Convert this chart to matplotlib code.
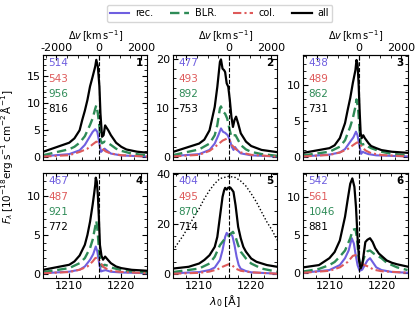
import numpy as np
import matplotlib
matplotlib.use("Agg")
import matplotlib.pyplot as plt
from matplotlib.ticker import MultipleLocator
from matplotlib.lines import Line2D

LYA = 1215.67
C_KMS = 299792.458

# ---------------- panel 1 ----------------
p1_all_lam = [1205, 1210, 1211, 1212, 1212.5, 1213, 1213.5, 1214, 1214.5, 1215, 1215.2, 1215.5, 1215.8, 1216,
              1216.3, 1216.6, 1216.9, 1217.5, 1218, 1219, 1220, 1221, 1223, 1225]
p1_all = [0.93, 2.6, 3.4, 4.9, 6.8, 8.5, 10.5, 13.0, 14.8, 16.7, 17.9, 16.7, 13.0, 8.0,
          3.7, 4.0, 5.8, 4.9, 4.0, 2.6, 1.85, 1.35, 0.95, 0.75]
p1_blr_lam = [1205, 1210, 1211, 1212, 1213, 1214, 1214.5, 1215, 1215.2, 1215.5, 1215.8, 1216, 1216.3, 1216.8,
              1217.5, 1218, 1219, 1220, 1222, 1225]
p1_blr = [0.3, 1.4, 1.85, 2.6, 3.8, 5.9, 7.1, 8.9, 9.5, 8.0, 5.6, 3.1, 2.5, 2.8,
          2.5, 2.2, 1.5, 1.1, 0.6, 0.25]
p1_rec_lam = [1205, 1210, 1212, 1213, 1214, 1214.5, 1215, 1215.4, 1215.8, 1216.1, 1216.4, 1216.8, 1217.3, 1218,
              1220, 1225]
p1_rec = [0.1, 0.5, 1.2, 2.2, 3.8, 4.6, 5.1, 4.6, 2.5, 0.9, 1.2, 1.5, 1.1, 0.6, 0.25, 0.05]
p1_col_lam = [1205, 1210, 1212, 1213.5, 1214.5, 1215.2, 1215.6, 1216, 1216.5, 1217, 1218, 1220, 1225]
p1_col = [0.05, 0.3, 0.9, 1.5, 2.3, 2.8, 2.6, 1.85, 1.4, 1.0, 0.6, 0.3, 0.05]

# ---------------- panel 2 ----------------
p2_all_lam = [1205, 1210, 1211, 1212, 1213, 1213.5, 1214, 1214.2, 1214.5, 1214.8, 1215, 1215.3, 1215.6, 1215.9,
              1216.2, 1216.5, 1216.8, 1217.1, 1217.5, 1218, 1219, 1220, 1222, 1225]
p2_all = [1.0, 2.7, 3.5, 5.4, 10.2, 14.3, 19.4, 19.9, 18.0, 17.7, 17.3, 15.0, 14.3, 11.6,
          8.2, 6.1, 7.5, 8.2, 6.8, 4.8, 3.1, 2.2, 1.4, 0.95]
p2_blr_lam = [1205, 1210, 1212, 1213, 1213.5, 1214, 1214.2, 1214.6, 1215, 1215.4, 1215.8, 1216.2, 1216.6, 1217,
              1217.5, 1218, 1219, 1220, 1222, 1225]
p2_blr = [0.35, 1.5, 2.7, 4.4, 6.5, 9.9, 10.3, 9.2, 8.8, 7.8, 5.8, 4.1, 4.4, 4.4,
          3.4, 2.4, 1.5, 1.0, 0.55, 0.2]
p2_rec_lam = [1205, 1210, 1212, 1213, 1213.7, 1214.2, 1214.6, 1215, 1215.5, 1215.9, 1216.3, 1216.6, 1216.9,
              1217.3, 1218, 1220, 1225]
p2_rec = [0.15, 0.55, 1.4, 2.7, 4.4, 5.8, 5.1, 4.9, 4.4, 3.4, 2.0, 1.4, 2.0, 1.4, 0.7, 0.3, 0.05]
p2_col_lam = [1205, 1210, 1212, 1213.5, 1214.5, 1215.3, 1215.8, 1216.3, 1217, 1218, 1220, 1225]
p2_col = [0.07, 0.4, 1.2, 2.4, 3.3, 3.7, 3.4, 2.4, 1.6, 0.9, 0.4, 0.05]

# ---------------- panel 3 ----------------
p3_all_lam = [1205, 1210, 1211, 1212, 1213, 1213.5, 1214, 1214.5, 1215, 1215.2, 1215.4, 1215.6, 1215.8, 1216,
              1216.2, 1216.5, 1216.8, 1217.5, 1218, 1219, 1220, 1222, 1225]
p3_all = [0.55, 1.2, 1.6, 2.6, 4.7, 6.5, 8.2, 10.3, 12.1, 13.5, 13.0, 10.3, 6.5, 3.3,
          2.6, 3.0, 2.6, 1.9, 1.5, 1.2, 0.93, 0.7, 0.55]
p3_blr_lam = [1205, 1210, 1212, 1213, 1214, 1214.5, 1215, 1215.2, 1215.5, 1215.8, 1216, 1216.3, 1216.8, 1217.5,
              1218, 1220, 1222, 1225]
p3_blr = [0.2, 0.7, 1.4, 2.3, 4.2, 5.4, 7.0, 8.0, 6.8, 3.7, 1.9, 1.7, 1.8, 1.4, 1.2, 0.7, 0.4, 0.2]
p3_rec_lam = [1205, 1210, 1212, 1213, 1214, 1214.6, 1215.1, 1215.4, 1215.8, 1216.1, 1216.4, 1216.8, 1217.5,
              1219, 1225]
p3_rec = [0.05, 0.3, 0.6, 1.07, 2.1, 2.7, 3.5, 3.0, 1.4, 0.4, 0.7, 0.55, 0.37, 0.2, 0.05]
p3_col_lam = [1205, 1210, 1212, 1213.5, 1214.5, 1215.3, 1215.8, 1216.3, 1217, 1218, 1220, 1225]
p3_col = [0.05, 0.25, 0.6, 1.07, 1.6, 2.0, 1.9, 1.3, 0.85, 0.5, 0.25, 0.05]

# ---------------- panel 4 ----------------
p4_all_lam = [1205, 1210, 1211, 1212, 1213, 1213.5, 1214, 1214.5, 1214.8, 1215, 1215.1, 1215.3, 1215.5, 1215.7,
              1215.9, 1216.2, 1216.5, 1216.9, 1217.4, 1218, 1219, 1220, 1222, 1225]
p4_all = [0.49, 1.14, 1.57, 2.34, 3.72, 5.0, 6.7, 8.9, 10.4, 11.5, 12.4, 11.9, 10.2, 7.2,
          3.7, 2.3, 1.8, 2.2, 1.8, 1.35, 0.92, 0.71, 0.49, 0.37]
p4_blr_lam = [1205, 1210, 1212, 1213, 1214, 1214.5, 1215, 1215.2, 1215.4, 1215.7, 1216, 1216.3, 1216.8, 1217.5,
              1218, 1220, 1222, 1225]
p4_blr = [0.2, 0.71, 1.35, 2.0, 3.29, 4.37, 6.09, 6.82, 5.87, 3.29, 1.35, 0.92, 1.14, 1.0,
          0.8, 0.45, 0.28, 0.15]
p4_rec_lam = [1205, 1210, 1212, 1213, 1214, 1214.6, 1215.1, 1215.4, 1215.8, 1216.1, 1216.5, 1217, 1218, 1220,
              1225]
p4_rec = [0.05, 0.25, 0.5, 0.92, 1.78, 2.5, 3.5, 2.86, 1.14, 0.28, 0.37, 0.45, 0.24, 0.15, 0.05]
p4_col_lam = [1205, 1210, 1212, 1213.5, 1214.5, 1215, 1215.5, 1216, 1216.6, 1217.3, 1218, 1220, 1225]
p4_col = [0.05, 0.2, 0.5, 0.92, 1.57, 2.0, 2.1, 1.44, 0.84, 0.58, 0.37, 0.22, 0.05]

# ---------------- panel 5 ----------------
p5_all_lam = [1205, 1208, 1210, 1211, 1212, 1213, 1213.5, 1214, 1214.5, 1214.8, 1215, 1215.3, 1215.6, 1216,
              1216.3, 1216.6, 1217, 1217.5, 1218, 1218.5, 1219, 1220, 1221, 1223, 1225]
p5_all = [2.2, 2.9, 4.2, 5.6, 7.5, 10.8, 14.8, 22.8, 30.7, 33.3, 34.3, 33.6, 34.4, 34.4,
          33.6, 32.7, 27.4, 18.8, 14.2, 10.8, 8.9, 6.2, 4.9, 3.6, 2.9]
p5_blr_lam = [1205, 1210, 1212, 1213, 1214, 1215, 1215.5, 1216, 1216.5, 1217, 1217.5, 1218, 1219, 1220,
              1222, 1225]
p5_blr = [0.8, 2.2, 4.2, 6.9, 11.5, 14.2, 14.8, 15.9, 16.8, 14.8, 11.5, 8.9, 6.2, 4.2, 2.2, 0.9]
p5_rec_lam = [1205, 1210, 1212, 1213, 1214, 1214.5, 1215, 1215.3, 1215.6, 1216, 1216.4, 1216.8, 1217.2,
              1217.6, 1218, 1219, 1220, 1225]
p5_rec = [0.3, 0.8, 1.6, 2.6, 5.6, 9.5, 14.8, 16.4, 15.5, 16.1, 15.1, 11.5, 6.9, 3.6, 2.1, 1.2, 0.7, 0.15]
p5_col_lam = [1205, 1210, 1212, 1213.5, 1214.5, 1215.3, 1215.8, 1216.3, 1217, 1218, 1220, 1225]
p5_col = [0.15, 0.5, 1.0, 1.85, 2.9, 3.6, 4.0, 3.6, 2.2, 1.3, 0.7, 0.15]
p5_intr_lam = [1205, 1207, 1209, 1210, 1211, 1212, 1213, 1214, 1215.7, 1217, 1218, 1219, 1220, 1221, 1222,
               1223, 1224, 1225]
p5_intr = [9.5, 15.5, 22.7, 26.0, 30.0, 33.3, 36.0, 38.0, 38.9, 38.4, 37.0, 35.0, 32.0, 28.7, 24.7,
           20.8, 17.5, 13.5]

# ---------------- panel 6 ----------------
p6_all_lam = [1205, 1208, 1210, 1211, 1212, 1213, 1213.5, 1214, 1214.4, 1214.8, 1215.1, 1215.4, 1215.7, 1216,
              1216.3, 1216.6, 1216.9, 1217.3, 1217.8, 1218.3, 1218.8, 1219.5, 1220, 1221, 1222, 1223, 1225]
p6_all = [0.8, 1.1, 2.0, 2.8, 4.3, 7.4, 9.6, 11.7, 12.4, 11.3, 8.7, 4.8, 1.7, 0.65,
          1.1, 2.6, 4.1, 4.4, 4.6, 4.1, 3.3, 2.6, 2.3, 1.7, 1.4, 1.2, 0.9]
p6_blr_lam = [1205, 1208, 1210, 1211, 1212, 1213, 1214, 1214.5, 1215, 1215.3, 1215.6, 1216, 1216.4, 1216.8,
              1217.3, 1217.8, 1218.5, 1219.5, 1220, 1221, 1223, 1225]
p6_blr = [0.26, 0.6, 1.1, 1.5, 2.2, 3.0, 4.6, 5.7, 5.8, 4.6, 2.2, 0.9, 1.5, 2.4,
          2.9, 3.0, 2.6, 2.2, 2.0, 1.4, 0.8, 0.45]
p6_rec_lam = [1205, 1210, 1212, 1213, 1213.7, 1214.3, 1214.7, 1215, 1215.4, 1215.8, 1216.3, 1216.8, 1217.3,
              1217.8, 1218.3, 1219, 1220, 1222, 1225]
p6_rec = [0.1, 0.45, 1.1, 2.0, 3.0, 4.6, 3.9, 2.6, 1.1, 0.35, 0.5, 1.1, 1.7, 2.0, 1.5, 0.8, 0.45, 0.2, 0.1]
p6_col_lam = [1205, 1210, 1212, 1213.5, 1214.5, 1215, 1215.5, 1216, 1216.7, 1217.5, 1218.5, 1220, 1225]
p6_col = [0.1, 0.35, 0.8, 1.5, 2.3, 2.4, 2.0, 1.4, 1.1, 0.9, 0.5, 0.3, 0.1]

# numbers printed in each panel (rec, col, BLR, all)
panel_numbers = [
    ["514", "543", "956", "816"],
    ["477", "493", "892", "753"],
    ["438", "489", "862", "731"],
    ["467", "487", "921", "772"],
    ["404", "495", "870", "714"],
    ["542", "561", "1046", "881"],
]
panel_ylims = [(-0.6, 18.8), (-0.67, 20.8), (-0.46, 14.2), (-0.58, 13.0), (-1.6, 40.2), (-0.6, 13.1)]
panel_yticks = [[0, 5, 10, 15], [0, 10, 20], [0, 5, 10], [0, 5, 10], [0, 20, 40], [0, 5, 10]]
panel_yminor = [1, 2, 1, 1, 5, 1]

panels = [
    (p1_rec_lam, p1_rec, p1_blr_lam, p1_blr, p1_col_lam, p1_col, p1_all_lam, p1_all),
    (p2_rec_lam, p2_rec, p2_blr_lam, p2_blr, p2_col_lam, p2_col, p2_all_lam, p2_all),
    (p3_rec_lam, p3_rec, p3_blr_lam, p3_blr, p3_col_lam, p3_col, p3_all_lam, p3_all),
    (p4_rec_lam, p4_rec, p4_blr_lam, p4_blr, p4_col_lam, p4_col, p4_all_lam, p4_all),
    (p5_rec_lam, p5_rec, p5_blr_lam, p5_blr, p5_col_lam, p5_col, p5_all_lam, p5_all),
    (p6_rec_lam, p6_rec, p6_blr_lam, p6_blr, p6_col_lam, p6_col, p6_all_lam, p6_all),
]

c_rec = "#6f5fe0"
c_blr = "#2e8b57"
c_col = "#de5a5a"
c_all = "black"


def lam_to_v(lam):
    return (lam - LYA) / LYA * C_KMS


def v_to_lam(v):
    return LYA * (1 + v / C_KMS)


fig = plt.figure(figsize=(4.15, 3.09), dpi=100)
lefts = [0.104, 0.417, 0.731]
bottoms = [0.482, 0.100]
w, h = 0.251, 0.340

for i, data in enumerate(panels):
    row, col = divmod(i, 3)
    ax = fig.add_axes([lefts[col], bottoms[row], w, h])
    rl, rv, bl, bv, cl, cv, al, av = data

    ax.plot(rl, rv, color=c_rec, lw=1.5)
    ax.plot(bl, bv, color=c_blr, lw=1.7, ls=(0, (4, 2)))
    ax.plot(cl, cv, color=c_col, lw=1.5, ls=(0, (4, 1.5, 1, 1.5)))
    ax.plot(al, av, color=c_all, lw=1.6)
    if i == 4:
        ax.plot(p5_intr_lam, p5_intr, color="black", lw=1.0, ls=(0, (1, 1.5)))
    ax.axvline(LYA, color="black", ls="--", lw=0.8)

    ax.set_xlim(1205, 1225)
    ax.set_ylim(*panel_ylims[i])
    ax.set_xticks([1210, 1220])
    ax.xaxis.set_minor_locator(MultipleLocator(2.5))
    ax.set_yticks(panel_yticks[i])
    ax.yaxis.set_minor_locator(MultipleLocator(panel_yminor[i]))
    ax.tick_params(which="both", direction="in", top=False, right=True, labelsize=8, pad=2)
    ax.tick_params(which="major", length=3.5)
    ax.tick_params(which="minor", length=2)
    if row == 0:
        ax.set_xticklabels([])

    sec = ax.secondary_xaxis("top", functions=(lam_to_v, v_to_lam))
    sec.set_xticks([-2000, 0, 2000])
    sec.xaxis.set_minor_locator(MultipleLocator(500))
    sec.tick_params(which="both", direction="in", labelsize=8, pad=1.5)
    sec.tick_params(which="major", length=3.5)
    sec.tick_params(which="minor", length=2)
    if row == 0:
        if col == 0:
            sec.set_xticklabels(["-2000", "0", "2000"])
        else:
            sec.set_xticklabels(["", "0", "2000"])
        sec.set_xlabel(r"$\Delta v\,[\mathrm{km\,s^{-1}}]$", fontsize=7, labelpad=2)
    else:
        sec.set_xticklabels([])

    nums = panel_numbers[i]
    for k, (txt, c) in enumerate(zip(nums, [c_rec, c_col, c_blr, c_all])):
        ax.text(0.05, 0.92 - 0.145 * k, txt, color=c, fontsize=7.5, transform=ax.transAxes,
                ha="left", va="center")
    ax.text(0.96, 0.92, str(i + 1), fontsize=7.5, fontweight="bold", transform=ax.transAxes,
            ha="right", va="center")

    if i == 4:
        ax.set_xlabel(r"$\lambda_0\,[\mathrm{\AA}]$", fontsize=8, labelpad=2)

fig.text(0.017, 0.493, r"$F_\lambda\,[10^{-18}\mathrm{erg\,s^{-1}\,cm^{-2}\,\AA^{-1}}]$",
         rotation=90, va="center", ha="center", fontsize=7.5)

handles = [
    Line2D([], [], color=c_rec, lw=1.5),
    Line2D([], [], color=c_blr, lw=1.7, ls=(0, (4, 2))),
    Line2D([], [], color=c_col, lw=1.5, ls=(0, (4, 1.5, 1, 1.5))),
    Line2D([], [], color=c_all, lw=1.6),
]
fig.legend(handles, ["rec.", "BLR.", "col.", "all"], loc="upper center", bbox_to_anchor=(0.529, 1.0),
           ncol=4, fontsize=7, frameon=True, handlelength=2.0, columnspacing=1.7,
           borderpad=0.35, handletextpad=0.6)

fig.savefig("out.png", dpi=100)
